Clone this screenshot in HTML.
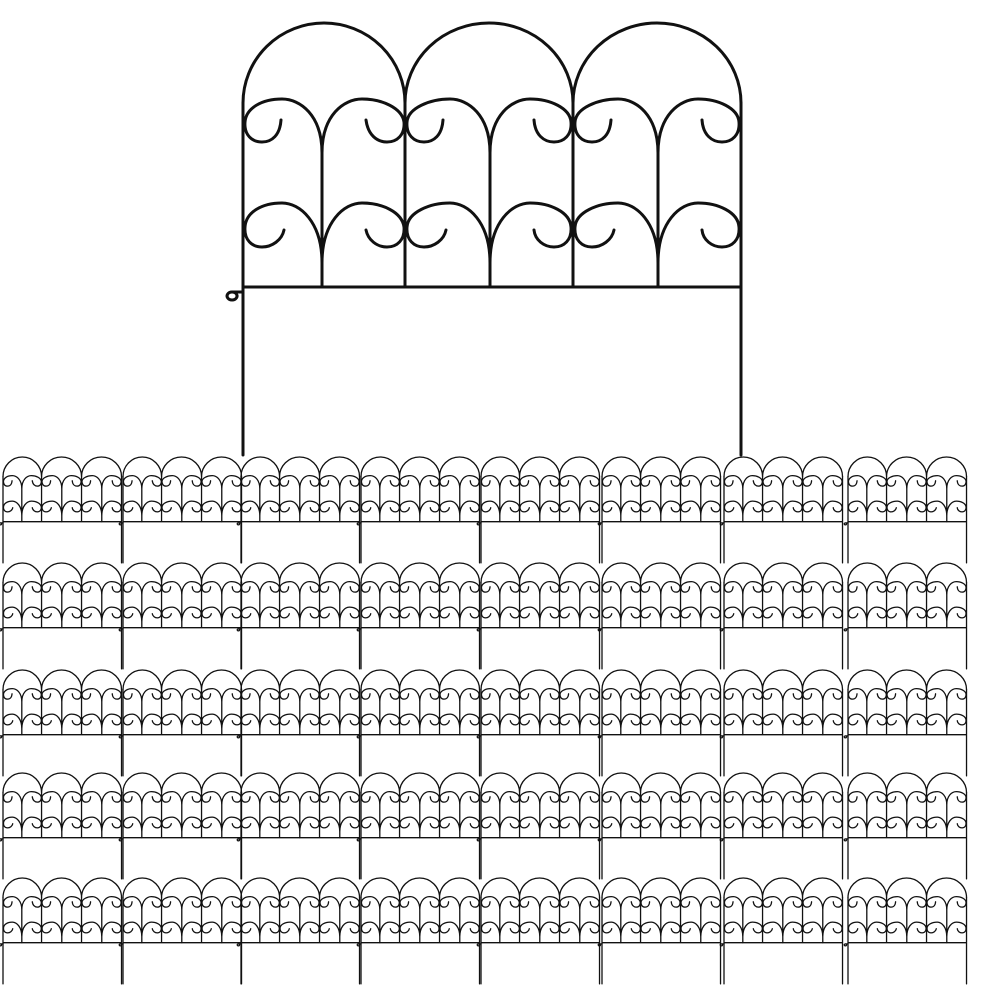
<!DOCTYPE html>
<html><head><meta charset="utf-8"><style>html,body{margin:0;padding:0;background:#fff}svg{display:block}</style></head>
<body>
<svg width="990" height="988" viewBox="0 0 990 988" xmlns="http://www.w3.org/2000/svg">
<defs>
<g id="f" fill="none" stroke="#111" stroke-linecap="round">
  <path vector-effect="non-scaling-stroke" d="M243,103 A81,80 0 0 1 405,103 M405,103 A84,80 0 0 1 573,103 M573,103 A84,80 0 0 1 741,103"/>
  <path vector-effect="non-scaling-stroke" d="M243,103 V455 M741,103 V455 M405,103 V287 M573,103 V287 M243,287 H741"/>
  <path vector-effect="non-scaling-stroke" d="M243,292 H232 M232,292 a5,4 0 1 0 0.1,0"/>
  <path vector-effect="non-scaling-stroke" d="M322,287 V153 M322,153 C322,115 300,99 282,99 C262,99 246,108 245,122 C244,135 252,142 262,142 C272,142 280,135 281,120 M322,153 C322,115 344,99 362,99 C382,99 402,108 404,122 C405,135 397,142 387,142 C377,142 368,135 366,120 M322,263 C322,222 300,203 282,203 C262,203 246,212 245,227 C244,240 252,247 262,247 C272,247 282,240 284,230 M322,263 C322,222 344,203 362,203 C382,203 402,212 404,227 C405,240 397,247 387,247 C377,247 368,240 366,230"/>
  <path vector-effect="non-scaling-stroke" d="M490,287 V153 M490,153 C490,115 468,99 450,99 C430,99 408,108 407,122 C406,135 414,142 424,142 C434,142 442,135 443,120 M490,153 C490,115 512,99 530,99 C550,99 570,108 571,122 C572,135 564,142 554,142 C544,142 535,135 534,120 M490,263 C490,222 468,203 450,203 C430,203 408,212 407,227 C406,240 414,247 424,247 C434,247 444,240 446,230 M490,263 C490,222 512,203 530,203 C550,203 570,212 571,227 C572,240 564,247 554,247 C544,247 535,240 534,230"/>
  <path vector-effect="non-scaling-stroke" d="M658,287 V153 M658,153 C658,115 636,99 618,99 C598,99 576,108 575,122 C574,135 582,142 592,142 C602,142 610,135 611,120 M658,153 C658,115 680,99 698,99 C718,99 738,108 739,122 C740,135 732,142 722,142 C712,142 703,135 702,120 M658,263 C658,222 636,203 618,203 C598,203 576,212 575,227 C574,240 582,247 592,247 C602,247 612,240 614,230 M658,263 C658,222 680,203 698,203 C718,203 738,212 739,227 C740,240 732,247 722,247 C712,247 703,240 702,230"/>
</g>
<g id="r">
<use href="#f" transform="translate(3,0) scale(0.238,0.245) translate(-243,-23)"/>
<use href="#f" transform="translate(123,0) scale(0.238,0.245) translate(-243,-23)"/>
<use href="#f" transform="translate(241,0) scale(0.238,0.245) translate(-243,-23)"/>
<use href="#f" transform="translate(361,0) scale(0.238,0.245) translate(-243,-23)"/>
<use href="#f" transform="translate(481,0) scale(0.238,0.245) translate(-243,-23)"/>
<use href="#f" transform="translate(602,0) scale(0.238,0.245) translate(-243,-23)"/>
<use href="#f" transform="translate(724,0) scale(0.238,0.245) translate(-243,-23)"/>
<use href="#f" transform="translate(848,0) scale(0.238,0.245) translate(-243,-23)"/>
</g>
</defs>
<use href="#f" stroke-width="3"/>
<g stroke-width="1.3">
<use href="#r" transform="translate(0,457)"/>
<use href="#r" transform="translate(0,563)"/>
<use href="#r" transform="translate(0,670)"/>
<use href="#r" transform="translate(0,773)"/>
<use href="#r" transform="translate(0,878)"/>
</g>
</svg>
</body></html>
